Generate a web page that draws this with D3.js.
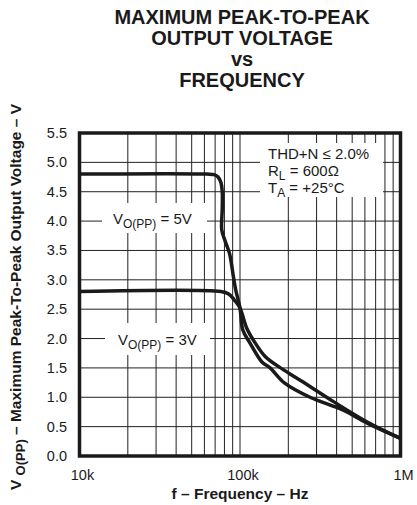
<!DOCTYPE html>
<html>
<head>
  <style>
    body {
      margin: 0;
      background: #fff;
    }
    text {
      font-family: "Liberation Sans", Arial, sans-serif;
      fill: #1a1a1a;
    }
  </style>
</head>
<body>
  <script src="https://d3js.org/d3.v7.min.js"></script>
  <script>
    var width = 417, height = 505;

    // data: [frequency Hz, Vo(pp) V]
    var titleLines = ["MAXIMUM PEAK-TO-PEAK", "OUTPUT VOLTAGE", "vs", "FREQUENCY"];
    var vo5 = [
      [1e4, 4.8], [6.2e4, 4.8], [6.9e4, 4.79], [7.3e4, 4.75], [7.6e4, 4.66],
      [7.75e4, 4.5], [7.75e4, 4.2], [7.7e4, 3.85], [8.1e4, 3.65], [8.6e4, 3.45],
      [9.1e4, 3.05], [9.4e4, 2.83], [1e5, 2.52], [1.04e5, 2.15], [1.15e5, 1.93],
      [1.37e5, 1.6], [1.54e5, 1.5], [1.9e5, 1.24], [2.73e5, 1.0], [4.4e5, 0.78],
      [6.2e5, 0.56], [1e6, 0.3]
    ];
    var vo3 = [
      [1e4, 2.8], [7.6e4, 2.8], [8.5e4, 2.76], [9.2e4, 2.66], [1e5, 2.52],
      [1.1e5, 2.18], [1.24e5, 1.93], [1.44e5, 1.69], [1.86e5, 1.47], [2.4e5, 1.28],
      [3.8e5, 0.93], [6.2e5, 0.58], [1e6, 0.3]
    ];
    var xTicks = [1e4, 1e5, 1e6];
    var xTickLabels = ["10k", "100k", "1M"];
    var yTicks = [0, 0.5, 1, 1.5, 2, 2.5, 3, 3.5, 4, 4.5, 5, 5.5];
    var xGrid = [2e4, 3e4, 4e4, 5e4, 6e4, 7e4, 8e4, 9e4, 1e5,
                 2e5, 3e5, 4e5, 5e5, 6e5, 7e5, 8e5, 9e5];

    var svg = d3.select("body").append("svg")
        .attr("width", width)
        .attr("height", height);

    var x = d3.scaleLog().domain([1e4, 1e6]).range([79.5, 400.5]);
    var y = d3.scaleLinear().domain([0, 5.5]).range([456, 133]);

    // title
    svg.selectAll("text.title")
        .data(titleLines)
      .enter().append("text")
        .attr("class", "title")
        .attr("x", 242)
        .attr("y", (d, i) => [24, 44.5, 66, 87][i])
        .attr("text-anchor", "middle")
        .style("font-weight", "bold")
        .style("font-size", "20px")
        .text(d => d);

    // grid
    var grid = svg.append("g").attr("stroke", "#222").attr("stroke-width", 1);
    grid.selectAll("line.v")
        .data(xGrid)
      .enter().append("line")
        .attr("x1", d => x(d)).attr("x2", d => x(d))
        .attr("y1", y(0)).attr("y2", y(5.5));
    grid.selectAll("line.h")
        .data(yTicks.slice(1, -1))
      .enter().append("line")
        .attr("x1", x(1e4)).attr("x2", x(1e6))
        .attr("y1", d => y(d)).attr("y2", d => y(d));

    // white boxes behind the in-plot labels
    var boxes = [[102, 203, 105, 30], [105, 323, 105, 32], [260, 143, 123, 54]];
    svg.selectAll("rect.box")
        .data(boxes)
      .enter().append("rect")
        .attr("x", d => d[0]).attr("y", d => d[1])
        .attr("width", d => d[2]).attr("height", d => d[3])
        .attr("fill", "#fff");

    // curves
    var line = d3.line()
        .x(d => x(d[0]))
        .y(d => y(d[1]))
        .curve(d3.curveCatmullRom.alpha(0.5));

    svg.selectAll("path.curve")
        .data([vo5, vo3])
      .enter().append("path")
        .attr("d", line)
        .attr("fill", "none")
        .attr("stroke", "#1a1a1a")
        .attr("stroke-width", 3.5)
        .attr("stroke-linejoin", "round");

    // frame
    svg.append("rect")
        .attr("x", x(1e4)).attr("y", y(5.5))
        .attr("width", x(1e6) - x(1e4))
        .attr("height", y(0) - y(5.5))
        .attr("fill", "none")
        .attr("stroke", "#1a1a1a")
        .attr("stroke-width", 3.5);

    // tick labels
    svg.selectAll("text.ytick")
        .data(yTicks)
      .enter().append("text")
        .attr("x", 67)
        .attr("y", d => y(d) + 5)
        .attr("text-anchor", "end")
        .style("font-size", "14.5px")
        .text(d => d.toFixed(1));

    svg.selectAll("text.xtick")
        .data(xTicks)
      .enter().append("text")
        .attr("x", d => x(d) + 3)
        .attr("y", 480)
        .attr("text-anchor", "middle")
        .style("font-size", "14.5px")
        .text((d, i) => xTickLabels[i]);

    // axis titles
    svg.append("text")
        .attr("x", 240).attr("y", 499)
        .attr("text-anchor", "middle")
        .style("font-weight", "bold")
        .style("font-size", "15.5px")
        .text("f \u2013 Frequency \u2013 Hz");

    var yt = svg.append("text")
        .attr("transform", "translate(21,297) rotate(-90)")
        .attr("text-anchor", "middle")
        .style("font-weight", "bold")
        .style("font-size", "15.5px");
    yt.append("tspan").text("V ");
    yt.append("tspan").attr("dy", 4).style("font-size", "13px").text("O(PP)");
    yt.append("tspan").attr("dy", -4).text(" \u2013 Maximum Peak-To-Peak Output Voltage \u2013 V");

    // curve labels
    function subLabel(x0, y0, main, sub, rest) {
      var t = svg.append("text")
          .attr("x", x0).attr("y", y0)
          .style("font-size", "15px");
      t.append("tspan").text(main);
      t.append("tspan").attr("dy", 4).style("font-size", "12px").text(sub);
      t.append("tspan").attr("dy", -4).text(rest);
    }
    subLabel(113, 224, "V", "O(PP)", " = 5V");
    subLabel(118, 345, "V", "O(PP)", " = 3V");

    svg.append("text")
        .attr("x", 268).attr("y", 159)
        .style("font-size", "15px")
        .text("THD+N \u2264 2.0%");
    subLabel(268, 176, "R", "L", " = 600\u03A9");
    subLabel(268, 193, "T", "A", " = +25\u00B0C");
  </script>
</body>
</html>
